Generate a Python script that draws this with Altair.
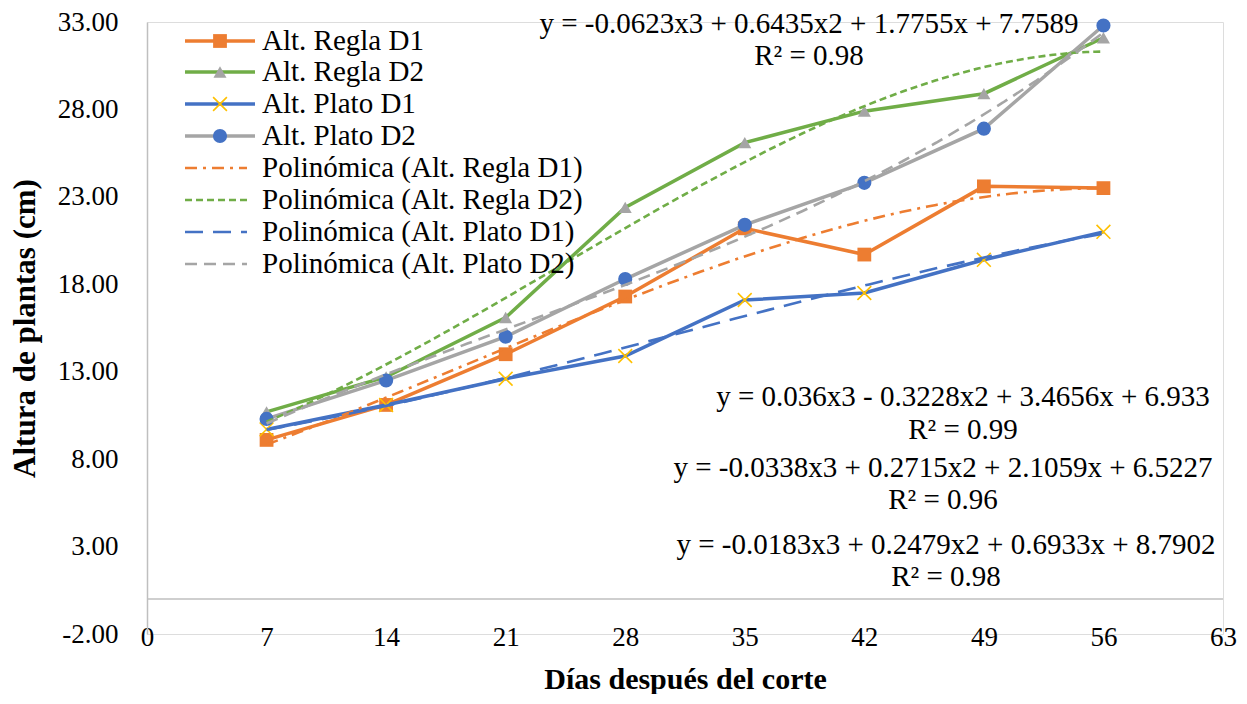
import altair as alt
import pandas as pd

# ---------------- data ----------------
days = [7, 14, 21, 28, 35, 42, 49, 56]
regla_d1 = [9.1, 11.1, 14.0, 17.3, 21.2, 19.7, 23.6, 23.5]
regla_d2 = [10.7, 12.7, 16.1, 22.4, 26.1, 27.9, 28.9, 32.1]
plato_d1 = [9.7, 11.1, 12.6, 13.9, 17.1, 17.5, 19.4, 21.0]
plato_d2 = [10.3, 12.5, 15.0, 18.3, 21.4, 23.8, 26.9, 32.8]

series_names = ["Alt. Regla D1", "Alt. Regla D2", "Alt. Plato D1", "Alt. Plato D2"]
trend_names = ["Polinómica (Alt. Regla D1)", "Polinómica (Alt. Regla D2)",
               "Polinómica (Alt. Plato D1)", "Polinómica (Alt. Plato D2)"]

eq_lines = ["y = -0.0623x3 + 0.6435x2 + 1.7755x + 7.7589", "R² = 0.98",
            "y = 0.036x3 - 0.3228x2 + 3.4656x + 6.933", "R² = 0.99",
            "y = -0.0338x3 + 0.2715x2 + 2.1059x + 6.5227", "R² = 0.96",
            "y = -0.0183x3 + 0.2479x2 + 0.6933x + 8.7902", "R² = 0.98"]

x_ticks = [0, 7, 14, 21, 28, 35, 42, 49, 56, 63]
y_ticks = [-2, 3, 8, 13, 18, 23, 28, 33]

# ---------------- styles ----------------
FONT = "Liberation Serif"
W, H = 1076, 612
line_colors = ["#ED7D31", "#70AD47", "#4472C4", "#A5A5A5"]
XSHAPE = "M-1,-1L1,1M-1,1L1,-1"
marker_shapes = ["square", "triangle-up", XSHAPE, "circle"]
marker_colors = ["#ED7D31", "#A5A5A5", "#FFC000", "#4472C4"]
marker_filled = [True, True, False, True]
marker_sizes = [190, 170, 190, 200]
trend_dash = [[12, 6, 3, 6], [7, 4], [18, 10], [12, 7]]

values = [regla_d1, regla_d2, plato_d1, plato_d2]

y_label_expr = ("datum.value < 0 ? '-' + format(-datum.value, '.2f') "
                ": format(datum.value, '.2f')")

x_enc = alt.X("day:Q", scale=alt.Scale(domain=[0, 63], nice=False, zero=False),
              axis=alt.Axis(values=x_ticks, title="Días después del corte", grid=False,
                            domain=False, ticks=False, tickSize=0, labelPadding=3,
                            labelBaseline="middle", labelFont=FONT, labelFontSize=27,
                            labelColor="#000000", titleFont=FONT, titleFontSize=30,
                            titleFontWeight="bold", titleColor="#000000",
                            titleY=45, titleBaseline="middle", labelFlush=False))
y_enc = alt.Y("val:Q", scale=alt.Scale(domain=[-2, 33], nice=False, zero=False),
              axis=alt.Axis(values=y_ticks, labelExpr=y_label_expr,
                            title="Altura de plantas (cm)",
                            grid=False, domain=True, domainColor="#BFBFBF", domainWidth=1.5,
                            ticks=False, tickSize=0, labelPadding=29, labelFont=FONT,
                            labelFontSize=27, labelColor="#000000", titleFont=FONT,
                            titleFontSize=31, titleFontWeight="bold", titleColor="#000000",
                            titleX=-122, titleY=H / 2, titleBaseline="middle",
                            titleAlign="center", labelFlush=False))

layers = []

# zero line
layers.append(alt.Chart(pd.DataFrame({"v": [0]})).mark_rule(color="#BFBFBF", strokeWidth=1.5)
              .encode(y=alt.Y("v:Q", scale=alt.Scale(domain=[-2, 33], nice=False, zero=False))))


def point_style(i):
    pt = dict(shape=marker_shapes[i], size=marker_sizes[i], opacity=1)
    if marker_filled[i]:
        pt.update(filled=True, color=marker_colors[i], strokeWidth=0)
    else:
        pt.update(filled=False, stroke=marker_colors[i], strokeWidth=1.6)
    return pt


for i, name in enumerate(series_names):
    df = pd.DataFrame({"day": days, "val": values[i]})
    base = alt.Chart(df)
    layers.append(base.mark_line(color=line_colors[i], strokeWidth=3.5).encode(x=x_enc, y=y_enc))
    layers.append(base.mark_point(**point_style(i)).encode(x=x_enc, y=y_enc))

for i, name in enumerate(trend_names):
    df = pd.DataFrame({"day": days, "val": values[i]})
    layers.append(alt.Chart(df)
                  .transform_regression("day", "val", method="poly", order=3, extent=[7, 56])
                  .mark_line(color=line_colors[i], strokeWidth=2.6, strokeDash=trend_dash[i])
                  .encode(x=x_enc, y=y_enc))

# equation labels (plot-local pixel positions)
eq_pos = [(662, 2), (662, 34), (816, 375), (816, 408), (796, 446), (796, 478), (799, 523), (799, 555)]
for txt, (px, py) in zip(eq_lines, eq_pos):
    layers.append(alt.Chart(pd.DataFrame({"t": [txt]}))
                  .mark_text(font=FONT, fontSize=29, color="#000000", align="center",
                             baseline="middle")
                  .encode(x=alt.value(px), y=alt.value(py), text="t:N"))

# legend
leg_rows = [19, 50, 82, 114, 146, 178, 210, 242]
LX0, LX1, LM, LT = 38, 108, 73, 115
for i, name in enumerate(series_names):
    yy = leg_rows[i]
    d = pd.DataFrame({"t": [name]})
    layers.append(alt.Chart(d).mark_rule(color=line_colors[i], strokeWidth=3.5)
                  .encode(x=alt.value(LX0), x2=alt.value(LX1), y=alt.value(yy)))
    layers.append(alt.Chart(d).mark_point(**point_style(i)).encode(x=alt.value(LM), y=alt.value(yy)))
    layers.append(alt.Chart(d).mark_text(font=FONT, fontSize=29, color="#000000", align="left",
                                         baseline="middle")
                  .encode(x=alt.value(LT), y=alt.value(yy), text="t:N"))
for i, name in enumerate(trend_names):
    yy = leg_rows[4 + i]
    d = pd.DataFrame({"t": [name]})
    layers.append(alt.Chart(d).mark_rule(color=line_colors[i], strokeWidth=2.6,
                                         strokeDash=trend_dash[i])
                  .encode(x=alt.value(LX0), x2=alt.value(LX1 - 8), y=alt.value(yy)))
    layers.append(alt.Chart(d).mark_text(font=FONT, fontSize=29, color="#000000", align="left",
                                         baseline="middle")
                  .encode(x=alt.value(LT), y=alt.value(yy), text="t:N"))

chart = (alt.layer(*layers)
         .properties(width=W, height=H,
                     autosize=alt.AutoSizeParams(type="none"),
                     padding={"left": 139, "top": 14, "right": 14, "bottom": 60})
         .configure_view(stroke=None)
         .configure(background="#FFFFFF"))

chart.save("out.html", embed_options={"renderer": "svg", "actions": False})
